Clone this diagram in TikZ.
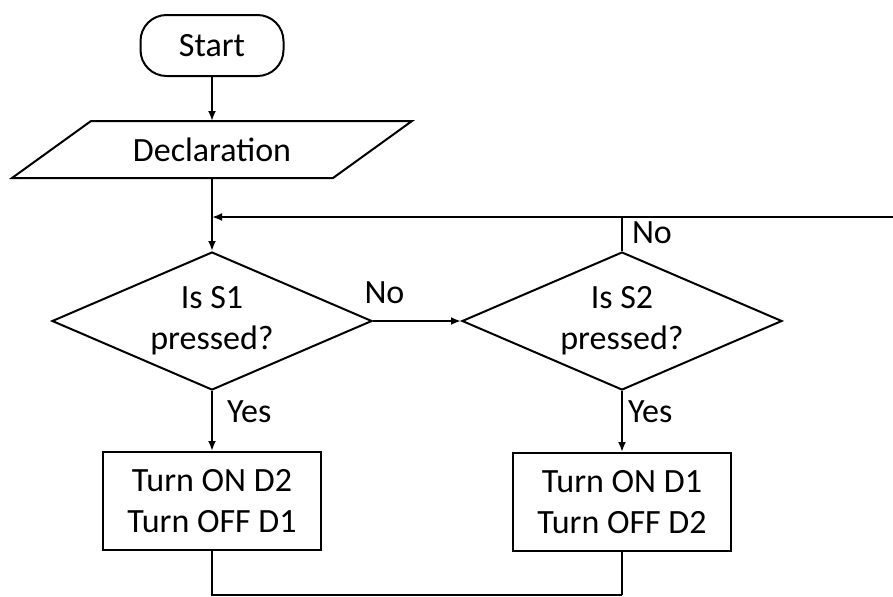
\documentclass[tikz,border=0pt]{standalone}
\usepackage{fontspec}
\setmainfont{Carlito}
\usetikzlibrary{shapes.geometric,arrows.meta,positioning}
\tikzset{
  terminal/.style={draw, rounded corners=13pt, minimum width=71.5pt, minimum height=30.5pt, inner sep=0pt},
  io/.style={minimum width=199pt, minimum height=27.5pt, inner sep=0pt},
  decision/.style={draw, diamond, aspect=2.3, minimum width=160pt, minimum height=69pt, inner sep=0pt, align=center},
  process/.style={draw, minimum width=109pt, minimum height=49pt, inner sep=0pt, align=center},
  flow/.style={-{Latex[length=5pt,width=4pt]}},
  lbl/.style={inner sep=1pt}
}
\begin{document}
\begin{tikzpicture}[x=0.5pt,y=-0.5pt,line width=1pt,font=\fontsize{17}{20.5}\selectfont]
\useasboundingbox (0,0) rectangle (893,596);
% Blocks
\node[terminal] (start) at (212,45.5) {Start};
\node[io] (decl) at (212,149.5) {Declaration};
\draw ([xshift=39.5pt]decl.north west) -- (decl.north east)
  -- ([xshift=-39.5pt]decl.south east) -- (decl.south west) -- cycle;
\node[decision] (s1) at (212,321) {Is S1\\pressed?};
\node[decision] (s2) at (622,321) {Is S2\\pressed?};
\node[process] (d2on) at (212,501) {Turn ON D2\\Turn OFF D1};
\node[process] (d1on) at (622,502) {Turn ON D1\\Turn OFF D2};
\coordinate (back) at (893,217);
\coordinate (bottom) at (893,595);
% Connectors and labels
\draw[flow] (start) -- (decl);
\draw[flow] (decl) -- (s1);
\draw[flow] (back) -- (back -| s1.north);
\draw[flow] (s1) -- node[lbl, above=7pt, pos=0.13] {No} (s2);
\draw (s2.north) -- node[lbl, right=3.5pt, pos=0.55] {No} (s2.north |- back);
\draw[flow] (s1) -- node[lbl, right=6pt, pos=0.34] {Yes} (d2on);
\draw[flow] (s2) -- node[lbl, right=1.5pt, pos=0.34] {Yes} (d1on);
\draw (d2on) -- (d2on.south |- bottom) -- (d1on.south |- bottom);
\draw (d1on) -- (d1on.south |- bottom);
\end{tikzpicture}
\end{document}
